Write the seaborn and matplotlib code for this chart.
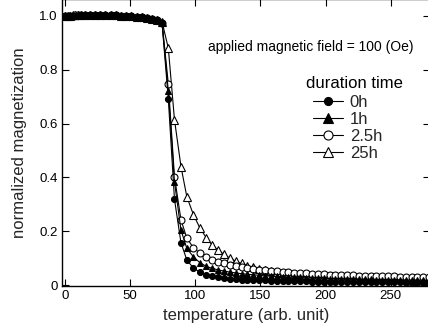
import matplotlib
matplotlib.use("Agg")
import matplotlib.pyplot as plt
import seaborn as sns
import pandas as pd
from matplotlib.lines import Line2D

sns.set_theme(style="ticks")
plt.rcParams['font.family'] = ['Liberation Sans', 'DejaVu Sans']

temperature = [0, 2, 4, 6, 8, 10, 12, 15, 19, 23, 27, 31, 35, 39, 43, 47, 51, 55, 59, 63, 67, 70.5, 74.5,
               79.3, 84, 89, 93.5, 98.5, 103.5, 108.5, 113, 117.5, 122, 126.5, 131, 135.5,
               140, 144.5, 149, 153.5, 158, 162.5, 167, 171.5, 176, 180.5, 185, 189.5, 194, 198.5,
               203, 207.5, 212, 216.5, 221, 225.5, 230, 234.5, 239, 243.5, 248, 252.5, 257, 261.5,
               266, 270.5, 275, 279.5]

m_0h = [1.0, 1.0, 1.0, 1.0, 1.001, 1.001, 1.002, 1.002, 1.003, 1.003, 1.003, 1.003, 1.002, 1.002,
        1.001, 1.0, 0.999, 0.997, 0.995, 0.992, 0.988, 0.984, 0.972,
        0.69, 0.319, 0.157, 0.093, 0.063, 0.048, 0.038, 0.032, 0.028, 0.025, 0.023, 0.021, 0.020,
        0.019, 0.018, 0.017, 0.017, 0.016, 0.016, 0.015, 0.015, 0.014, 0.014, 0.014, 0.013, 0.013,
        0.013, 0.012, 0.012, 0.012, 0.012, 0.011, 0.011, 0.011, 0.011, 0.010, 0.010, 0.010, 0.010,
        0.010, 0.009, 0.009, 0.009, 0.009, 0.009]

m_1h = [1.0, 1.0, 1.0, 1.001, 1.001, 1.002, 1.002, 1.003, 1.003, 1.004, 1.004, 1.003, 1.003, 1.002,
        1.001, 1.0, 0.999, 0.997, 0.995, 0.992, 0.989, 0.984, 0.973,
        0.72, 0.384, 0.204, 0.136, 0.105, 0.083, 0.069, 0.062, 0.056, 0.052, 0.048, 0.045, 0.042,
        0.040, 0.038, 0.036, 0.034, 0.033, 0.032, 0.031, 0.030, 0.029, 0.028, 0.027, 0.026, 0.026,
        0.025, 0.024, 0.024, 0.023, 0.023, 0.022, 0.022, 0.021, 0.021, 0.020, 0.020, 0.019, 0.019,
        0.019, 0.018, 0.018, 0.018, 0.017, 0.017]

m_2_5h = [1.0, 1.0, 1.001, 1.001, 1.002, 1.002, 1.003, 1.003, 1.004, 1.004, 1.004, 1.003, 1.003, 1.002,
          1.001, 1.0, 0.999, 0.997, 0.995, 0.993, 0.989, 0.985, 0.975,
          0.747, 0.403, 0.242, 0.174, 0.139, 0.118, 0.103, 0.094, 0.087, 0.080, 0.075, 0.070, 0.066,
          0.063, 0.060, 0.057, 0.055, 0.053, 0.051, 0.049, 0.047, 0.046, 0.045, 0.043, 0.042, 0.041,
          0.040, 0.039, 0.038, 0.037, 0.036, 0.036, 0.035, 0.034, 0.034, 0.033, 0.033, 0.032, 0.032,
          0.031, 0.031, 0.030, 0.030, 0.029, 0.029]

m_25h = [1.0, 1.0, 1.001, 1.002, 1.003, 1.004, 1.004, 1.005, 1.005, 1.005, 1.004, 1.004, 1.003, 1.002,
         1.001, 1.0, 0.999, 0.997, 0.995, 0.993, 0.99, 0.986, 0.978,
         0.88, 0.615, 0.44, 0.328, 0.262, 0.212, 0.175, 0.148, 0.130, 0.114, 0.100, 0.089, 0.080,
         0.072, 0.066, 0.060, 0.056, 0.052, 0.049, 0.046, 0.044, 0.042, 0.040, 0.038, 0.037, 0.035,
         0.034, 0.033, 0.032, 0.031, 0.030, 0.029, 0.028, 0.027, 0.027, 0.026, 0.025, 0.025, 0.024,
         0.023, 0.023, 0.022, 0.022, 0.021, 0.021]

series_names = ["0h", "1h", "2.5h", "25h"]
x_ticks = [0, 50, 100, 150, 200, 250]
y_ticks = [0, 0.2, 0.4, 0.6, 0.8, 1.0]
y_tick_labels = ["0", "0.2", "0.4", "0.6", "0.8", "1.0"]

frames = []
for name, vals in zip(series_names, [m_0h, m_1h, m_2_5h, m_25h]):
    frames.append(pd.DataFrame({"temperature": temperature, "magnetization": vals, "duration": name}))
df = pd.concat(frames, ignore_index=True)

styles = {
    "0h": dict(marker="o", mfc="black", ms=4.3),
    "1h": dict(marker="^", mfc="black", ms=5.0),
    "2.5h": dict(marker="o", mfc="white", ms=5.0),
    "25h": dict(marker="^", mfc="white", ms=5.2),
}

fig = plt.figure(figsize=(4.28, 3.28), dpi=100)
ax = fig.add_axes([62 / 428, 42 / 328, 368 / 428, 287 / 328])

for name in ["25h", "2.5h", "1h", "0h"]:
    st = styles[name]
    sub = df[df["duration"] == name]
    sns.lineplot(data=sub, x="temperature", y="magnetization", ax=ax, color="black",
                 linewidth=0.8, marker=st["marker"], markersize=st["ms"],
                 markerfacecolor=st["mfc"], markeredgecolor="black", markeredgewidth=0.8,
                 legend=False, zorder=3)

ax.set_xlim(-2.3, 280.1)
ax.set_ylim(-0.0037, 1.063)
ax.set_xticks(x_ticks)
ax.set_xticklabels([str(t) for t in x_ticks])
ax.set_yticks(y_ticks)
ax.set_yticklabels(y_tick_labels)
ax.tick_params(direction="in", length=5, width=0.8, top=True, right=True,
               labelsize=9.5, colors="black", pad=3)
for s in ax.spines.values():
    s.set_linewidth(1.0)
    s.set_color("black")

ax.set_xlabel("temperature (arb. unit)", fontsize=12, labelpad=4)
ax.set_ylabel("normalized magnetization", fontsize=12, labelpad=9)

fig.text(208 / 428, 1 - 51 / 328, "applied magnetic field = 100 (Oe)", fontsize=10,
         color="black")
fig.text(306 / 428, 1 - 83 / 328, "duration time", fontsize=12, color="black",
         va="center", ha="left")

handles = []
for name in series_names:
    st = styles[name]
    handles.append(Line2D([], [], color="black", linewidth=0.8, marker=st["marker"],
                          markersize=st["ms"] + 1.5, markerfacecolor=st["mfc"],
                          markeredgecolor="black", markeredgewidth=0.8))
leg = ax.legend(handles, series_names, frameon=False,
                fontsize=12, loc="upper left",
                bbox_to_anchor=(313 / 428, 1 - 95 / 328), bbox_transform=fig.transFigure,
                handlelength=1.8, handletextpad=0.4,
                labelspacing=0.12, borderpad=0.0, borderaxespad=0.0)

fig.savefig("out.png", dpi=100)
